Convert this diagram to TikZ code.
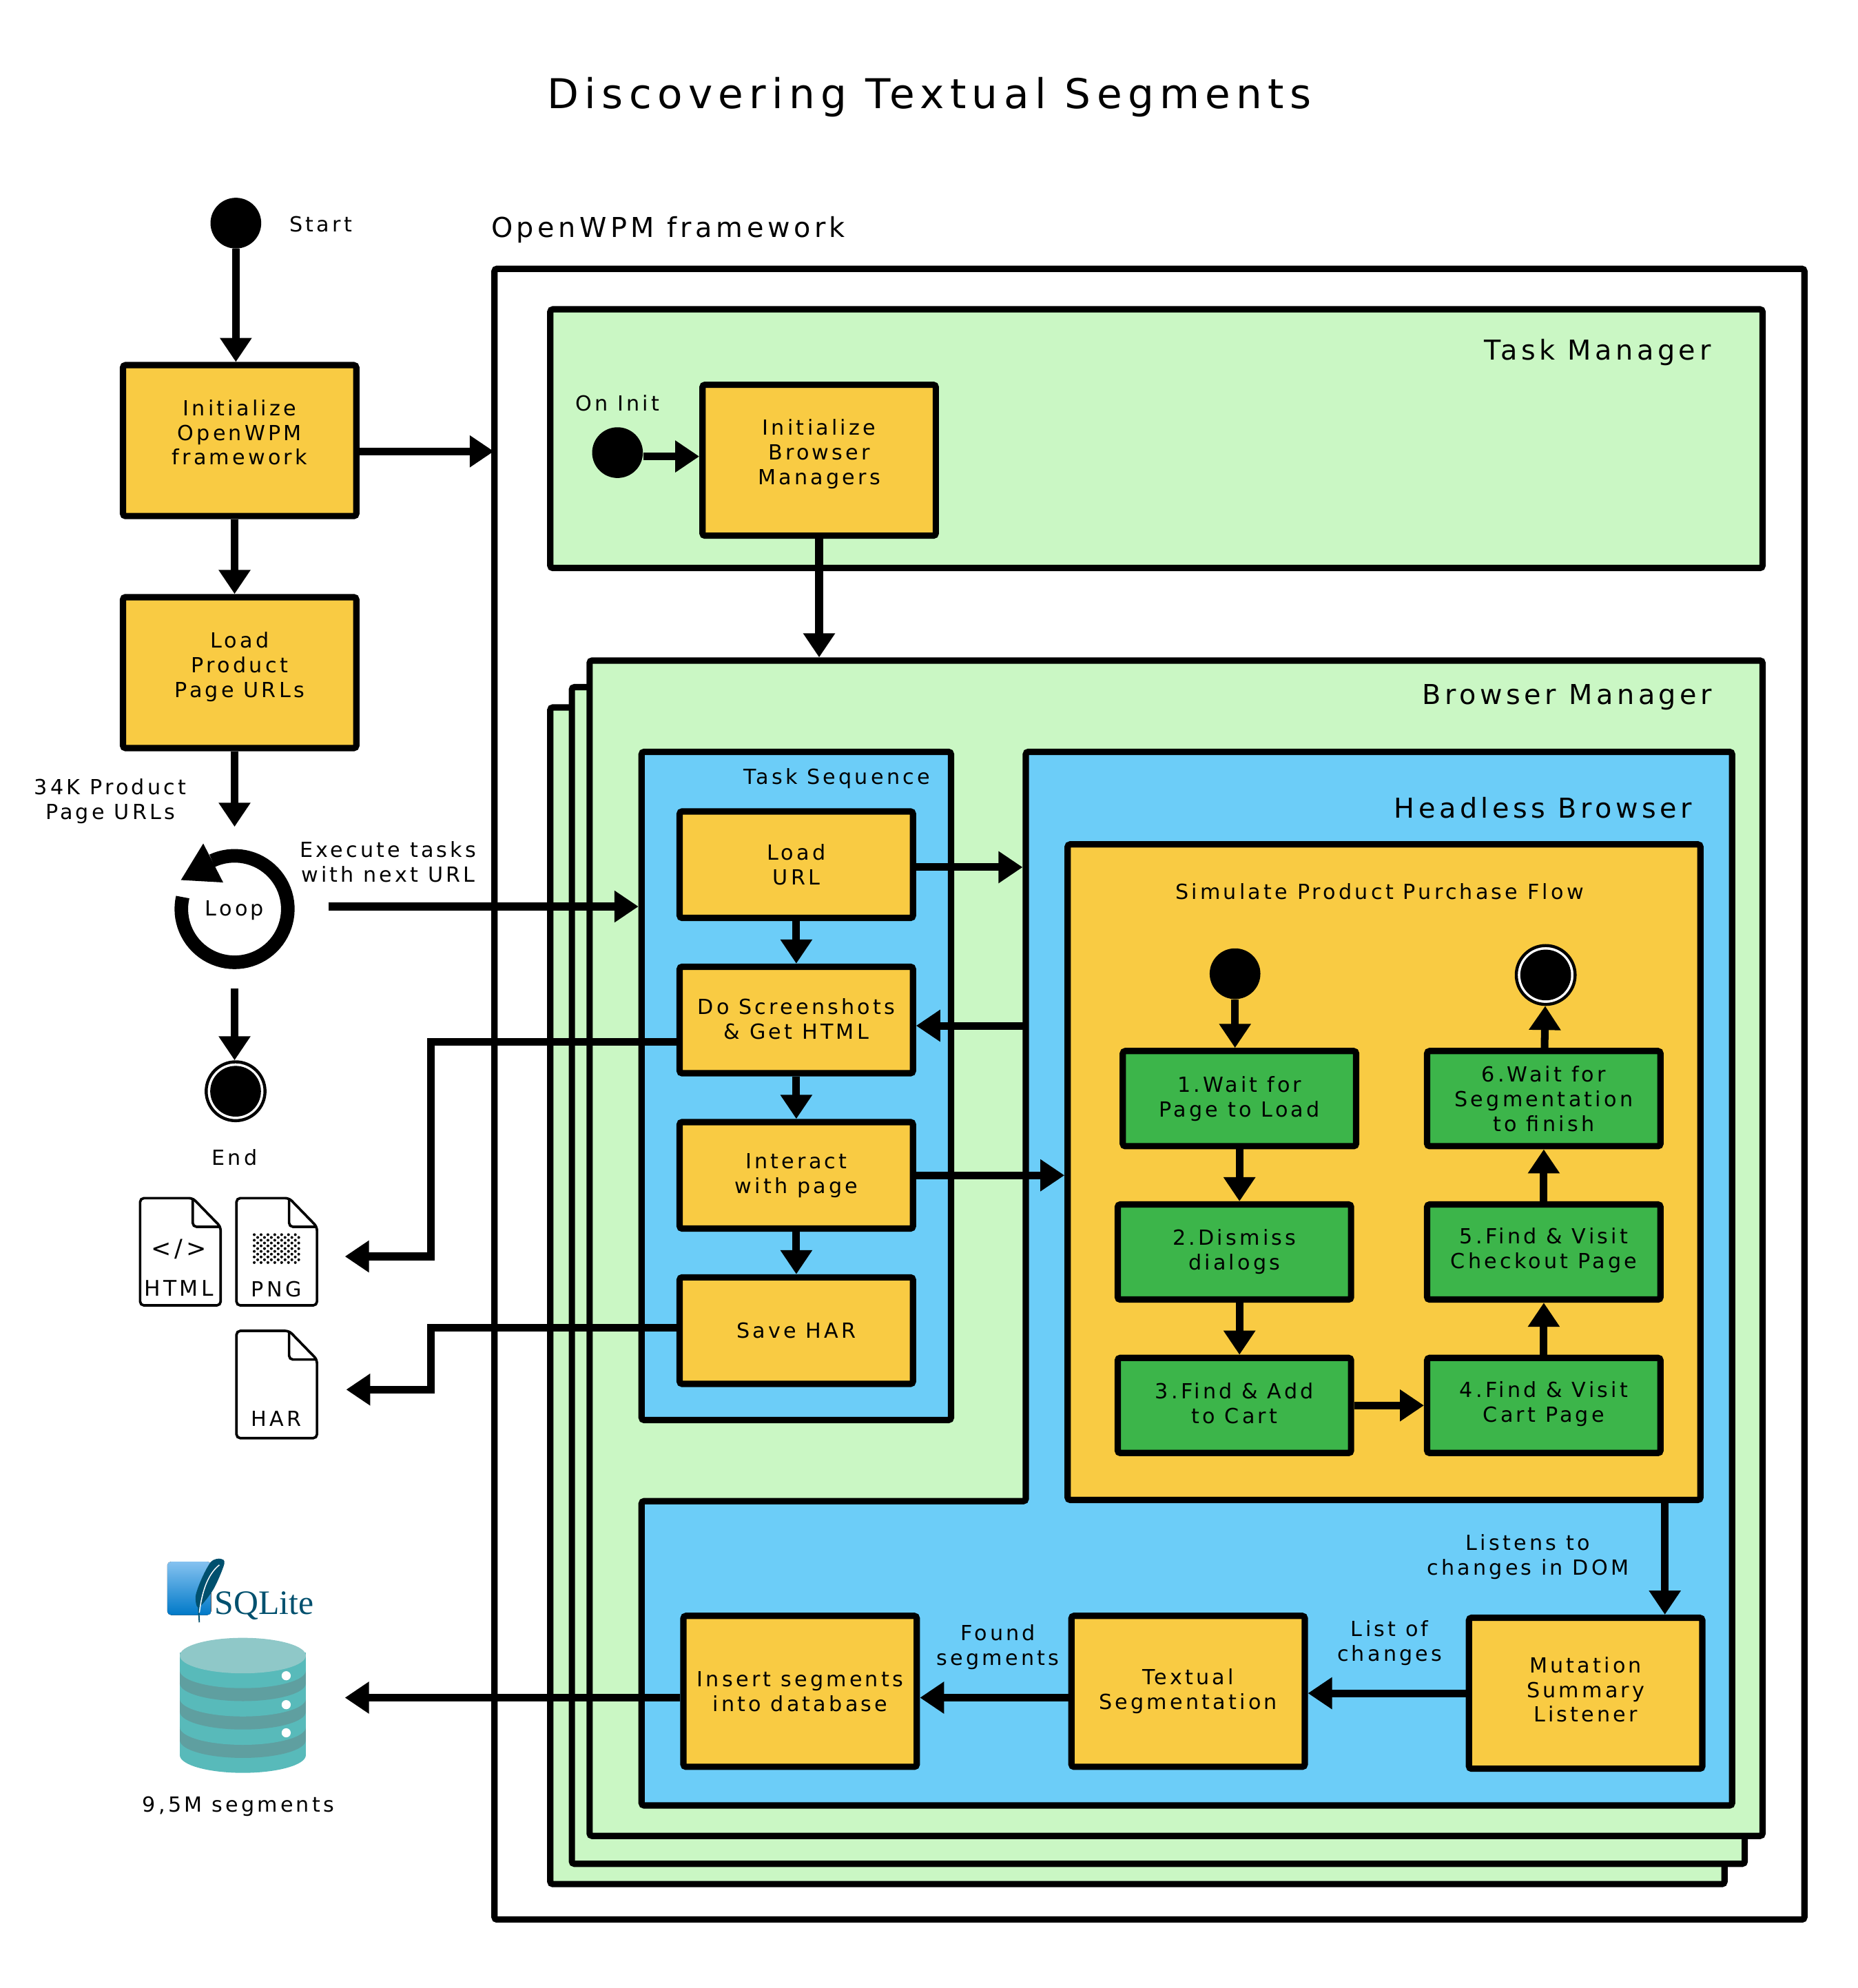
\documentclass[tikz,border=0pt]{standalone}
\usepackage{xcolor}
\usepackage{fontspec}
\setmainfont[LetterSpace=14]{DejaVu Sans}
\newfontfamily\logofont{Liberation Serif}
\usetikzlibrary{arrows.meta,positioning,calc}
\definecolor{stepfill}{HTML}{F9CB43}
\definecolor{pagefill}{HTML}{3CB54A}
\definecolor{bluefill}{HTML}{6CCDF8}
\definecolor{greenfill}{HTML}{CAF7C4}
\definecolor{dbteal}{HTML}{58BABA}
\definecolor{dbdark}{HTML}{5F9FA0}
\definecolor{dbtop}{HTML}{8FC8C8}
\definecolor{logotext}{HTML}{00506E}
\definecolor{logotop}{HTML}{85C2F0}
\definecolor{logobottom}{HTML}{0079C8}
\newcommand{\bodysize}{\fontsize{8.2}{9.75}\selectfont}
\newcommand{\headsize}{\fontsize{10.8}{13}\selectfont}

\begin{document}
\begin{tikzpicture}[
	x=0.5pt, y=-0.5pt,
	every node/.style={font=\bodysize},
	lbl/.style={align=center, inner sep=0pt},
	head/.style={align=center, inner sep=0pt, font=\headsize},
	frame/.style={draw, line width=2.5pt, rounded corners=1pt, fill=white, inner sep=0pt},
	mgr/.style={frame, fill=greenfill},
	panel/.style={frame, fill=bluefill},
	box/.style={draw, line width=2.5pt, rounded corners=1pt, fill=stepfill, align=center, inner sep=0pt, minimum width=92pt, minimum height=42pt},
	tall/.style={box, minimum height=59.5pt},
	page/.style={box, fill=pagefill, minimum height=37.5pt},
	lift/.style={text depth=#1},
	startdot/.style={circle, fill=black, inner sep=0pt, minimum size=20pt},
	enddot/.style={circle, draw=black, fill=white, line width=1.2pt, inner sep=0pt, minimum size=23.2pt,
		path picture={\fill[black] (path picture bounding box.center) circle (10pt);}},
	doc/.style={draw, line width=1pt, rounded corners=1.5pt, fill=white},
	ar/.style={-{Triangle[length=9.5pt,width=12pt]}, line width=3pt}]
	\useasboundingbox (0,0) rectangle (1465,1568);
	\node[font=\fontsize{16.2}{19}\selectfont, inner sep=0pt] (title) at (733,76.5) {Discovering Textual Segments};

	% left column
	\node[startdot] (start) at (186,176) {};
	\node[lbl] (startlbl) at (253,177) {Start};
	\node[tall, lift=6.5pt] (init) at (189,347.5) {Initialize\\OpenWPM\\framework};
	\node[tall, lift=6pt, below=29.5pt of init] (loadurls) {Load\\Product\\Page URLs};
	\node[lbl] (urlcount) at (87,632) {34K Product\\Page URLs};
	\node[lbl, circle, minimum size=47.5pt] (loop) at (185,718) {Loop};
	\draw[line width=5.35pt] plot[domain=167:475, samples=70] ({185+42*cos(\x)}, {717-42*sin(\x)});
	\fill (160.3,665.3) -- (142.7,694.1) -- (176,696) -- cycle;
	\node[lbl] (execlbl) at (306,680) {Execute tasks\\with next URL};
	\node[enddot] (stop) at (185.8,860.7) {};
	\node[lbl] (stoplbl) at (185,913) {End};

	% result files
	\foreach \dx/\dy in {110.5/945, 186.5/945, 186.5/1049.7} {
		\draw[doc] (\dx,\dy) -- ++(41.5,0) -- ++(22,22.6) -- ++(0,62) -- ++(-63.5,0) -- cycle;
		\draw[doc, fill=none] (\dx+41.5,\dy) -- ++(0,22.6) -- ++(22,0);
	}
	\foreach \r in {0,...,10} {
		\foreach \c in {0,...,6} {
			\pgfmathsetmacro{\ox}{200.5+5.4*\c+2.7*mod(\r,2)}
			\fill (\ox,973.8+2.2*\r) circle (0.55pt);
		}
	}
	\node[lbl, font=\fontsize{9.5}{11}\selectfont] (codesign) at (141,985) {</>};
	\node[lbl, font=\fontsize{8.5}{11}\selectfont] (htmllbl) at (141,1016) {HTML};
	\node[lbl, font=\fontsize{8.2}{11}\selectfont] (pnglbl) at (218,1017) {PNG};
	\node[lbl, font=\fontsize{8.2}{11}\selectfont] (harlbl) at (218,1119) {HAR};
	\coordinate (pngout) at (272,991);
	\coordinate (pngbend) at (340,822);
	\coordinate (harout) at (273,1096);
	\coordinate (harbend) at (340,1047);

	% database
	\fill[top color=logotop, bottom color=logobottom, rounded corners=1.5pt] (131.9,1231.7) rectangle (166.6,1273.8);
	\fill[logotext] plot[smooth cycle] coordinates {(173.9,1229.4) (176.9,1233.4) (168.4,1253.4) (156.7,1267.8) (154.3,1258.8) (159.4,1244.3) (166.6,1231.6)};
	\draw[logotext, line width=0.5pt] (156.4,1265) -- (157.2,1279.6);
	\draw[white, line width=0.4pt] (157.2,1272) .. controls (160,1250) and (166,1240) .. (173,1234.3);
	\node[inner sep=0pt, anchor=base west, text=logotext, font=\logofont\fontsize{13.5}{14}\selectfont] (sqlite) at (169,1273) {SQLite};
	\foreach \yb/\col in {1398.3/dbteal, 1386.5/dbdark, 1376.2/dbteal, 1364.1/dbdark, 1353.8/dbteal, 1341.7/dbdark, 1331.5/dbteal} {
		\fill[\col] (191.5,\yb-14) ellipse (24.85pt and 7pt);
		\fill[\col] (141.8,\yb-14) rectangle (241.2,\yb-28);
	}
	\fill[dbtop] (191.5,1305.8) ellipse (24.85pt and 7pt);
	\foreach \yh in {1321.7, 1344.5, 1366.7} {
		\fill[white] (225.7,\yh) circle (1.8pt);
	}
	\node[lbl] (dblbl) at (188,1425) {9,5M segments};
	\coordinate (dbout) at (272,1339);

	% framework and task manager
	\node[head, anchor=west] (wpmlbl) at (387,181) {OpenWPM framework};
	\node[frame, minimum width=516.5pt, minimum height=651pt] (wpm) at (906.5,863) {};
	\node[mgr, minimum width=478pt, minimum height=102pt] (taskmgr) at (912,346) {};
	\node[head] (taskmgrlbl) at (1260,278) {Task Manager};
	\node[lbl] (oninit) at (487,318) {On Init};
	\node[startdot] (initdot) at (487,357) {};
	\node[tall, lift=6.5pt] (initbm) at (646,363) {Initialize\\Browser\\Managers};

	% browser managers
	\node[mgr, minimum width=463pt, minimum height=464pt] (bm3) at (897,1022) {};
	\node[mgr, minimum width=462.5pt, minimum height=464pt] (bm2) at (913.5,1006) {};
	\node[mgr, minimum width=462.5pt, minimum height=463.5pt] (bm) at (927.5,984.5) {};
	\node[head] (bmlbl) at (1236,550) {Browser Manager};

	% task sequence
	\node[panel, minimum width=122pt, minimum height=263.5pt] (taskseq) at (628,856.5) {};
	\node[lbl] (taskseqlbl) at (660,614) {Task Sequence};
	\node[box] (loadurl) at (628,682) {Load\\URL};
	\node[box, lift=1pt, below=16.75pt of loadurl] (shots) {Do Screenshots\\\& Get HTML};
	\node[box, below=16.75pt of shots] (interact) {Interact\\with page};
	\node[box, below=16.75pt of interact] (savehar) {Save HAR};

	% headless browser and the lower row
	\draw[frame, fill=bluefill] (809,593) -- (1366,593) -- (1366,1424) -- (506,1424) -- (506,1184) -- (809,1184) -- cycle;
	\coordinate (hlwest) at (806.5,593);
	\coordinate (hlback) at (809,809);
	\node[head] (hllbl) at (1217,637) {Headless Browser};
	\node[box, minimum width=249.5pt, minimum height=258.5pt] (flow) at (1091.5,924.5) {};
	\node[lbl] (flowlbl) at (1088,703) {Simulate Product Purchase Flow};
	\node[startdot] (flowstart) at (974,768) {};
	\node[enddot] (flowend) at (1219,769) {};
	\node[page] (waitload) at (977.5,866.5) {1.Wait for\\Page to Load};
	\node[page] (dismiss) at (973.5,987.5) {2.Dismiss\\dialogs};
	\node[page, lift=2pt, below=20.5pt of dismiss] (addcart) {3.Find \& Add\\to Cart};
	\node[page] (waitseg) at (1217.5,866.5) {6.Wait for\\Segmentation\\to finish};
	\node[page, lift=3pt, below=20.5pt of waitseg] (checkout) {5.Find \& Visit\\Checkout Page};
	\node[page, lift=3pt, below=20.5pt of checkout] (cartpage) {4.Find \& Visit\\Cart Page};
	\node[tall, lift=3pt] (mutation) at (1250.5,1335.5) {Mutation\\Summary\\Listener};
	\node[tall] (textseg) at (937,1334) {Textual\\Segmentation};
	\node[tall] (insert) at (631,1334) {Insert segments\\into database};
	\coordinate (mutin) at (1313,1273);
	\node[lbl] (listenlbl) at (1205,1228) {Listens to\\changes in DOM};
	\node[lbl] (changeslbl) at (1096,1296) {List of\\changes};
	\node[lbl] (foundlbl) at (787,1299) {Found\\segments};

	% connectors
	\draw[ar] (start) -- (start |- init.north);
	\draw[ar] (init.south -| loop) -- (loop |- loadurls.north);
	\draw[ar, shorten >=-1pt] ([yshift=-4.25pt]init.east) -- ([yshift=-4.25pt]init.east -| wpm.west);
	\draw[ar, shorten >=9pt] (loadurls.south -| loop) -- (loop.north);
	\draw[ar, shorten <=13pt] ([yshift=1.5pt]loop.east) -- ([yshift=1.5pt]loop.east -| taskseq.west);
	\draw[ar, shorten <=7pt] (loop.south) -- (loop.south |- stop.north);
	\draw[ar] ([yshift=-1.5pt]initdot.east) -- ([yshift=-1.5pt]initbm.west |- initdot);
	\draw[ar] (initbm) -- (initbm |- bm.north);
	\draw[ar] (loadurl) -- (shots);
	\draw[ar] (shots) -- (interact);
	\draw[ar] (interact) -- (savehar);
	\draw[ar] ([yshift=-1pt]loadurl.east) -- ([yshift=-1pt]loadurl.east -| hlwest);
	\draw[ar] (hlback) -- (shots.east |- hlback);
	\draw[ar] (interact.east) -- (interact.east -| flow.west);
	\draw[ar] (shots.west |- pngbend) -- (pngbend) |- (pngout);
	\draw[ar] (savehar.west |- harbend) -- (harbend) |- (harout);
	\draw[ar] (flowstart) -- (flowstart |- waitload.north);
	\draw[ar] (waitload.south) -- (waitload.south |- dismiss.north);
	\draw[ar] (waitload.south |- dismiss.south) -- (waitload.south |- addcart.north);
	\draw[ar] (addcart.east) -- (cartpage.west |- addcart.east);
	\draw[ar] (cartpage) -- (checkout);
	\draw[ar] (checkout) -- (waitseg);
	\draw[ar] (waitseg) -- (flowend);
	\draw[ar] (flow.south -| mutin) -- (mutin |- mutation.north);
	\draw[ar] (mutation.west) -- (mutation.west -| textseg.east);
	\draw[ar] (textseg.west |- dbout) -- (insert.east |- dbout);
	\draw[ar] (insert.west |- dbout) -- (dbout);
\end{tikzpicture}
\end{document}
